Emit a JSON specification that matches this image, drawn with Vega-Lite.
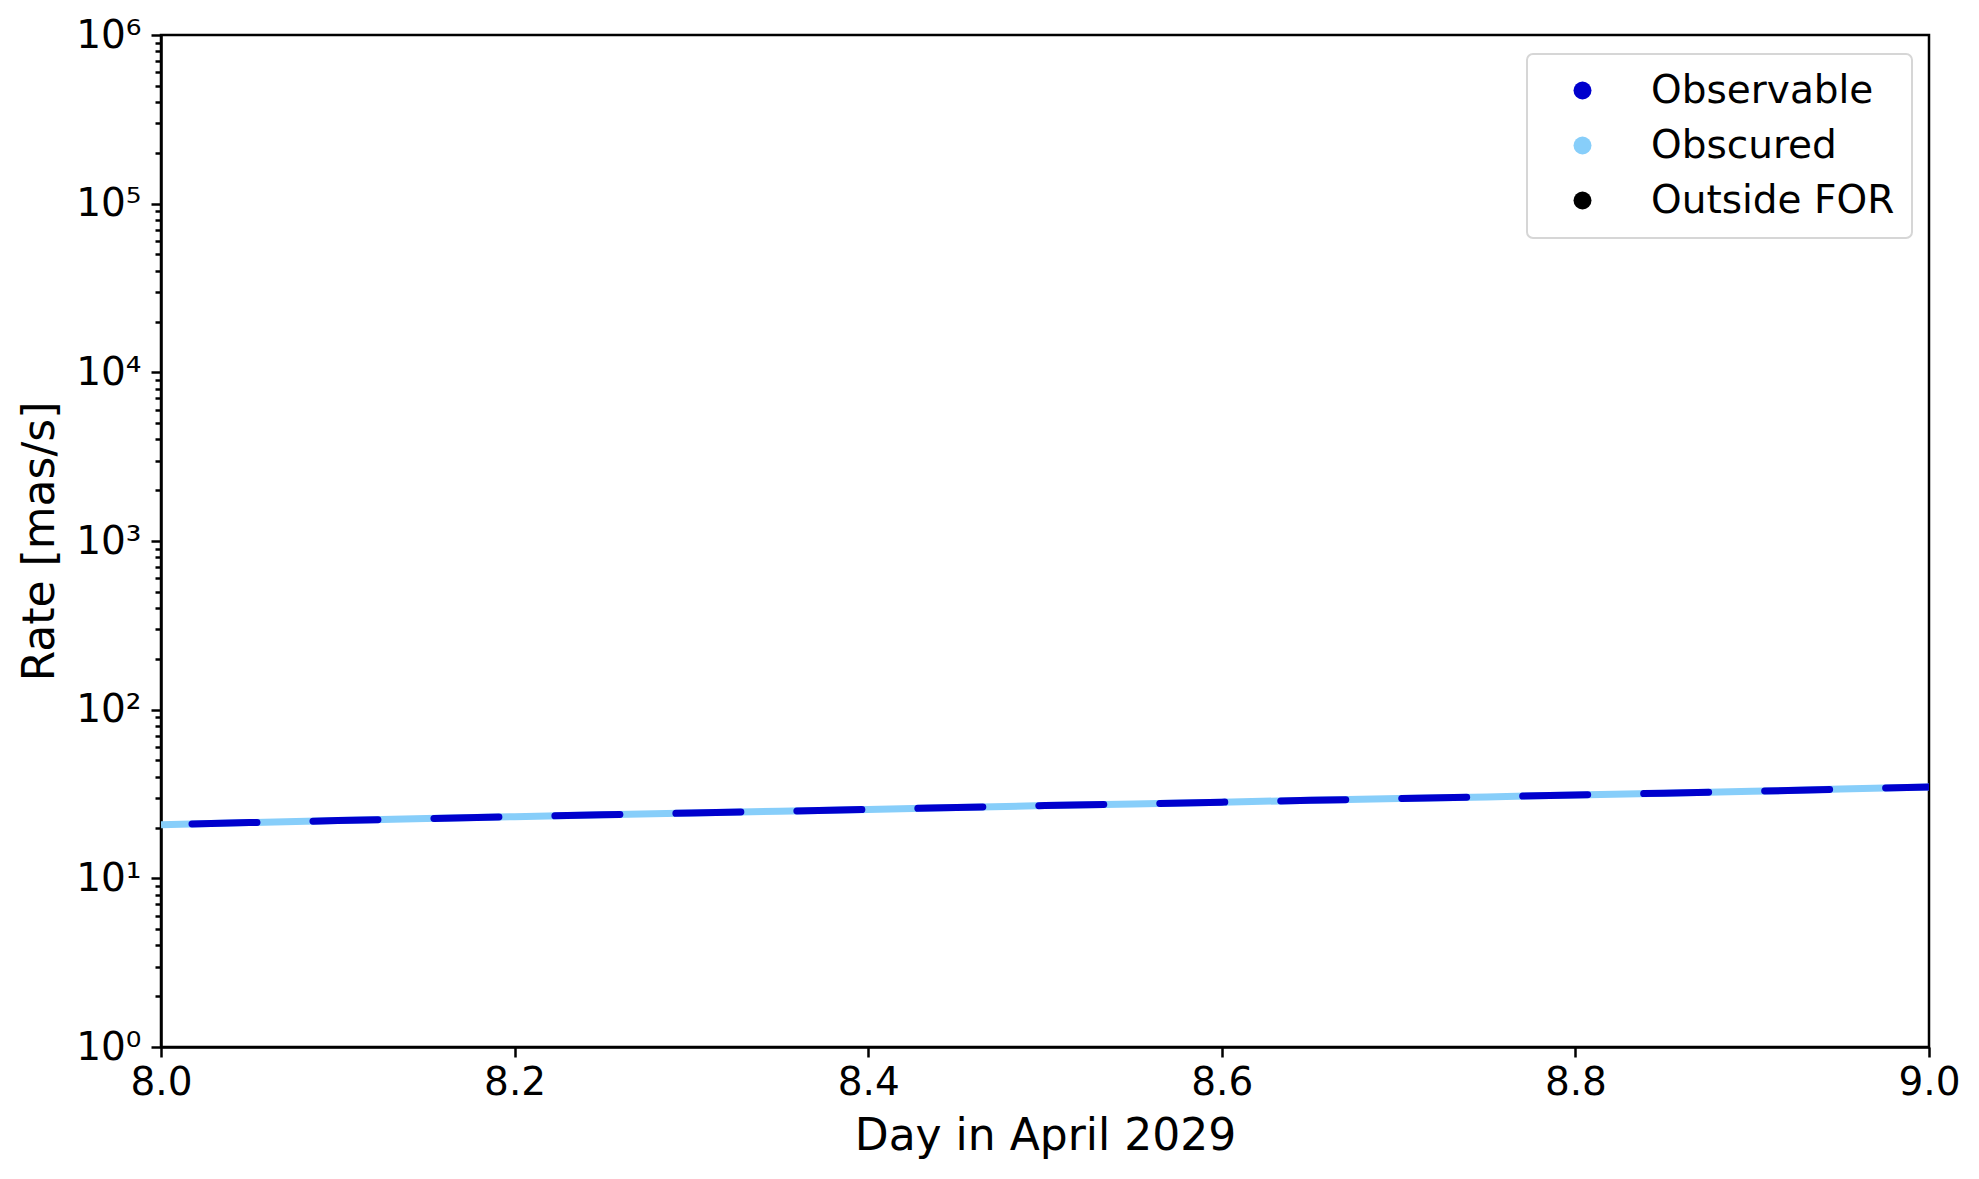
{
  "$schema": "https://vega.github.io/schema/vega-lite/v6.json",
  "autosize": "none",
  "width": 1768,
  "height": 1012,
  "padding": {"left": 161, "top": 35, "right": 50, "bottom": 132},
  "background": "white",
  "config": {
    "font": "DejaVu Sans",
    "view": {"stroke": "black", "strokeWidth": 2.5},
    "axis": {
      "labelFont": "DejaVu Sans",
      "titleFont": "DejaVu Sans",
      "labelColor": "black",
      "titleColor": "black",
      "domainColor": "black",
      "domainWidth": 2.5,
      "tickColor": "black",
      "tickWidth": 2.5,
      "labelFontSize": 39,
      "titleFontSize": 44,
      "titleFontWeight": "normal",
      "grid": false
    }
  },
  "data": {
    "values": [
      {"day": 8.00, "rate": 20.8, "status": "Obscured"},
      {"day": 8.05, "rate": 21.4, "status": "Obscured"},
      {"day": 8.10, "rate": 22.0, "status": "Obscured"},
      {"day": 8.15, "rate": 22.6, "status": "Obscured"},
      {"day": 8.20, "rate": 23.2, "status": "Obscured"},
      {"day": 8.25, "rate": 23.8, "status": "Obscured"},
      {"day": 8.30, "rate": 24.4, "status": "Obscured"},
      {"day": 8.35, "rate": 25.0, "status": "Obscured"},
      {"day": 8.40, "rate": 25.6, "status": "Obscured"},
      {"day": 8.45, "rate": 26.3, "status": "Obscured"},
      {"day": 8.50, "rate": 27.0, "status": "Obscured"},
      {"day": 8.55, "rate": 27.6, "status": "Obscured"},
      {"day": 8.60, "rate": 28.3, "status": "Obscured"},
      {"day": 8.65, "rate": 29.0, "status": "Obscured"},
      {"day": 8.70, "rate": 29.7, "status": "Obscured"},
      {"day": 8.75, "rate": 30.4, "status": "Obscured"},
      {"day": 8.80, "rate": 31.2, "status": "Obscured"},
      {"day": 8.85, "rate": 32.0, "status": "Obscured"},
      {"day": 8.90, "rate": 32.8, "status": "Obscured"},
      {"day": 8.95, "rate": 33.8, "status": "Obscured"},
      {"day": 9.00, "rate": 34.8, "status": "Obscured"},
      {"day": 8.00, "rate": 20.8, "status": "Observable"},
      {"day": 8.05, "rate": 21.4, "status": "Observable"},
      {"day": 8.10, "rate": 22.0, "status": "Observable"},
      {"day": 8.15, "rate": 22.6, "status": "Observable"},
      {"day": 8.20, "rate": 23.2, "status": "Observable"},
      {"day": 8.25, "rate": 23.8, "status": "Observable"},
      {"day": 8.30, "rate": 24.4, "status": "Observable"},
      {"day": 8.35, "rate": 25.0, "status": "Observable"},
      {"day": 8.40, "rate": 25.6, "status": "Observable"},
      {"day": 8.45, "rate": 26.3, "status": "Observable"},
      {"day": 8.50, "rate": 27.0, "status": "Observable"},
      {"day": 8.55, "rate": 27.6, "status": "Observable"},
      {"day": 8.60, "rate": 28.3, "status": "Observable"},
      {"day": 8.65, "rate": 29.0, "status": "Observable"},
      {"day": 8.70, "rate": 29.7, "status": "Observable"},
      {"day": 8.75, "rate": 30.4, "status": "Observable"},
      {"day": 8.80, "rate": 31.2, "status": "Observable"},
      {"day": 8.85, "rate": 32.0, "status": "Observable"},
      {"day": 8.90, "rate": 32.8, "status": "Observable"},
      {"day": 8.95, "rate": 33.8, "status": "Observable"},
      {"day": 9.00, "rate": 34.8, "status": "Observable"}
    ]
  },
  "encoding": {
    "x": {
      "field": "day",
      "type": "quantitative",
      "scale": {"domain": [8, 9], "nice": false, "zero": false},
      "axis": {
        "title": "Day in April 2029",
        "values": [8.0, 8.2, 8.4, 8.6, 8.8, 9.0],
        "format": ".1f",
        "tickSize": 10,
        "labelPadding": 6,
        "titlePadding": 12,
        "labelFlush": false,
        "labelOverlap": false
      }
    },
    "y": {
      "field": "rate",
      "type": "quantitative",
      "scale": {"type": "log", "domain": [1, 1000000], "nice": false},
      "axis": {
        "title": "Rate [mas/s]",
        "values": [1,2,3,4,5,6,7,8,9,10,20,30,40,50,60,70,80,90,100,200,300,400,500,600,700,800,900,1000,2000,3000,4000,5000,6000,7000,8000,9000,10000,20000,30000,40000,50000,60000,70000,80000,90000,100000,200000,300000,400000,500000,600000,700000,800000,900000,1000000],
        "labelExpr": "abs(log(datum.value)/LN10 - round(log(datum.value)/LN10)) < 0.000001 ? '10' + ['⁰','¹','²','³','⁴','⁵','⁶'][round(log(datum.value)/LN10)] : ''",
        "tickSize": {"condition": {"test": "abs(log(datum.value)/LN10 - round(log(datum.value)/LN10)) < 0.000001", "value": 10}, "value": 6},
        "labelPadding": 10,
        "titlePadding": 13,
        "labelOverlap": false,
        "labelFlush": false,
        "labelBound": false
      }
    },
    "color": {
      "field": "status",
      "type": "nominal",
      "scale": {"domain": ["Observable", "Obscured", "Outside FOR"], "range": ["#0000CD", "#87CEFA", "#000000"]},
      "legend": {
        "title": null,
        "orient": "none",
        "legendX": 1366,
        "legendY": 19,
        "symbolType": "circle",
        "symbolSize": 324,
        "symbolStrokeWidth": 0,
        "symbolOffset": 19,
        "labelOffset": 49,
        "labelLimit": 500,
        "labelFontSize": 39,
        "labelFont": "DejaVu Sans",
        "labelColor": "black",
        "rowPadding": 15,
        "padding": 17,
        "strokeColor": "#d6d6d6",
        "fillColor": "white",
        "cornerRadius": 6,
        "encode": {
          "symbols": {"update": {"fill": {"scale": "color", "field": "value"}, "opacity": {"value": 1}, "strokeWidth": {"value": 0}}},
          "legend": {"update": {"strokeWidth": {"value": 2}}}
        }
      }
    }
  },
  "layer": [
    {
      "transform": [{"filter": "datum.status === 'Obscured'"}],
      "mark": {"type": "line", "strokeWidth": 7, "strokeCap": "butt", "clip": true}
    },
    {
      "transform": [{"filter": "datum.status === 'Observable'"}],
      "mark": {"type": "line", "strokeWidth": 7, "strokeCap": "round", "strokeDash": [65, 56], "strokeDashOffset": 90, "clip": true}
    }
  ]
}
